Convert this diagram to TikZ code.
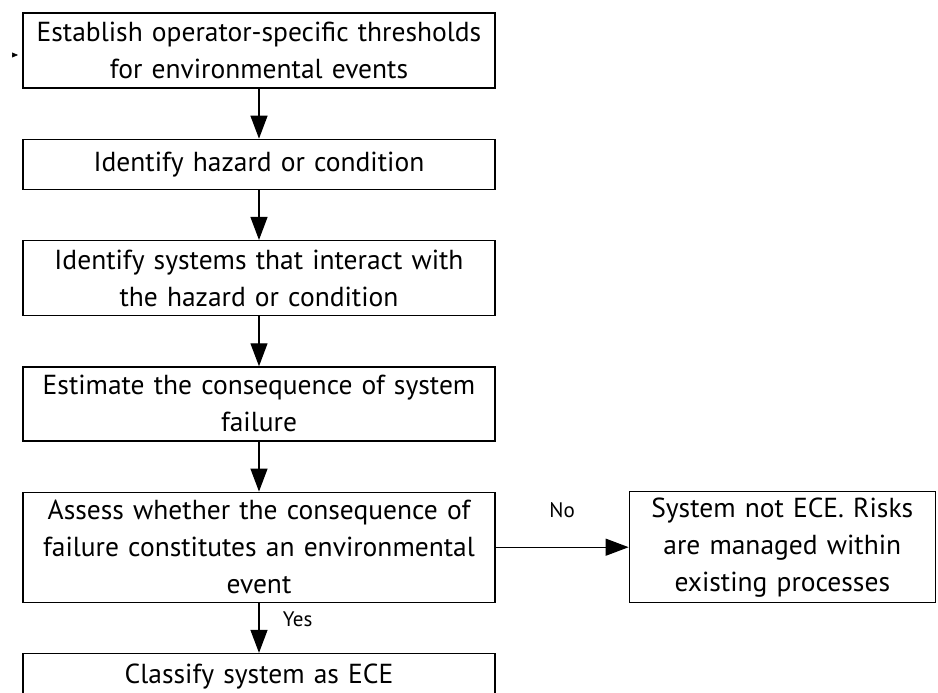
\documentclass[tikz,border=0pt]{standalone}
\usepackage{fontspec}
\setmainfont{PT Sans}
\usetikzlibrary{positioning, arrows.meta}

\begin{document}
\begin{tikzpicture}[
			node distance = 50pt and 133pt,
			stepbox/.style = {rectangle, draw, line width=1.3pt, inner sep=0pt,
					minimum width=472pt, text width=460pt, align=center,
					font=\fontsize{27.5pt}{37pt}\selectfont},
			sidebox/.style = {stepbox, minimum width=306pt, text width=296pt},
			line/.style = {draw, line width=1.3pt, -{Triangle[length=23pt,width=17pt]}},
			answer/.style = {font=\fontsize{21pt}{24pt}\selectfont},
		]
		\useasboundingbox (0pt,0pt) rectangle (938pt,-693pt);

		% Steps of the classification
		\node [stepbox, minimum height=75pt] (thresholds) at (259pt,-50.5pt)
			{Establish operator-specific thresholds\\for environmental events};
		\node [stepbox, minimum height=50pt, below=of thresholds] (hazard)
			{Identify hazard or condition};
		\node [stepbox, minimum height=75pt, below=of hazard] (systems)
			{Identify systems that interact with\\the hazard or condition};
		\node [stepbox, minimum height=74pt, below=of systems] (consequence)
			{Estimate the consequence of system\\failure};
		\node [stepbox, minimum height=110pt, below=of consequence] (assess)
			{Assess whether the consequence of\\failure constitutes an environmental\\event};
		\node [stepbox, minimum height=47pt, below=of assess] (classify)
			{Classify system as ECE};

		% Outcome when not ECE
		\node [sidebox, minimum height=111pt, right=of assess] (notece)
			{System not ECE. Risks\\are managed within\\existing processes};

		% Entry tip
		\coordinate (entry) at (12pt,-55pt);
		\coordinate (entryend) at (18pt,-55pt);

		% Draw arrows
		\path [line, -{Triangle[length=6pt,width=5pt]}, line width=0.5pt] (entry) -- (entryend);
		\path [line] (thresholds) -- (hazard);
		\path [line] (hazard) -- (systems);
		\path [line] (systems) -- (consequence);
		\path [line] (consequence) -- (assess);
		\path [line] (assess) -- node [answer, right=20pt, pos=0.32] {Yes} (classify);
		\path [line] (assess) -- node [answer, above=25pt] {No} (notece);

	\end{tikzpicture}
\end{document}
